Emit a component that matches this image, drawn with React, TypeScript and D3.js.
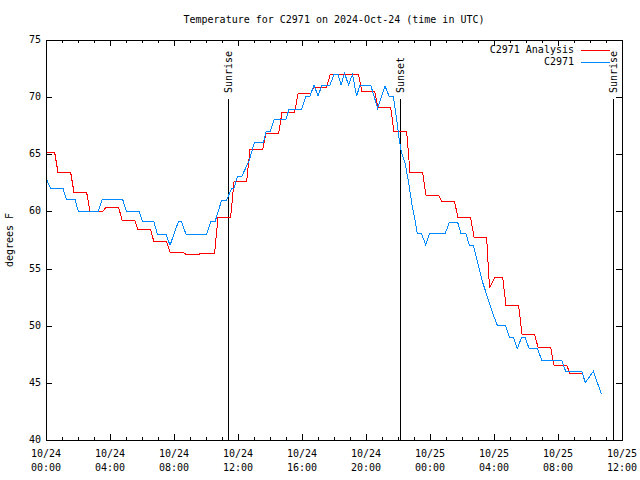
import React from "react";
import * as d3 from "d3";

const W = 640;
const H = 480;
const PLOT = { left: 46, right: 622, top: 40, bottom: 440 };
const START = Date.UTC(2024, 9, 24, 0, 0);
const END = Date.UTC(2024, 9, 25, 12, 0);
const hToDate = (h: number) => new Date(START + h * 3600e3);

const titleText = "Temperature for C2971 on 2024-Oct-24 (time in UTC)";
const yLabelText = "degrees F";
const seriesNames = ["C2971 Analysis", "C2971"];
const seriesColors = ["#ff0000", "#0088ff"];

// hourly analysis values (hour 0 .. 33)
const analysisHourly = [
  65.17, 63.42, 61.67, 59.98, 60.36, 59.25, 58.38, 57.33, 56.42, 56.25,
  56.35, 59.49, 62.6, 65.43, 66.83, 68.67, 70.28, 70.86, 71.94, 71.94,
  70.48, 69.08, 66.98, 63.42, 61.41, 60.83, 59.43, 57.76, 54.24, 51.75,
  49.25, 48.11, 46.54, 45.83,
];
const analysisDips = [{ hour: 28, value: 53.27 }];

// observations: hours since 10/24 00:00 UTC and values
const obsHours = [
  0, 0.29, 1.06, 1.27, 1.81, 2.02, 3.27, 3.52, 4.79, 5.02, 5.81, 6.04, 6.75,
  6.96, 7.5, 7.75, 8.27, 8.48, 8.75, 10.04, 10.29, 10.56, 10.98, 11.29, 11.61,
  11.75, 11.96, 12.23, 12.71, 13.02, 13.58, 13.75, 14.0, 14.27, 15.0, 15.19,
  15.98, 16.25, 16.5, 16.75, 17.0, 17.25, 17.75, 18.0, 18.25, 18.44, 18.66,
  18.91, 19.16, 19.41, 19.63, 20.29, 20.73, 21.19, 21.44, 21.71, 21.92, 22.08,
  22.23, 22.44, 22.64, 22.86, 23.06, 23.21, 23.48, 23.73, 23.96, 24.94, 25.21,
  25.73, 25.94, 26.25, 26.46, 26.71, 27.02, 27.29, 27.64, 27.96, 28.21, 28.71,
  28.96, 29.21, 29.46, 29.73, 29.94, 30.19, 30.71, 30.98, 32.23, 32.48, 33.48,
  33.71, 34.21, 34.71,
];
const obsValues = [
  62.9, 62.02, 62.02, 61.06, 61.06, 60.01, 60.01, 61.06, 61.06, 60.01, 60.01,
  59.08, 59.08, 58.0, 58.0, 57.04, 59.08, 59.08, 58.0, 58.0, 59.08, 59.08, 61.0,
  61.0, 62.02, 62.02, 63.04, 63.04, 64.5, 66.02, 66.02, 66.98, 66.98, 68.06,
  68.06, 68.96, 68.96, 70.1, 70.1, 71.06, 70.1, 71.06, 71.06, 72.0, 72.0, 71.06,
  72.09, 71.06, 72.0, 70.1, 71.06, 71.06, 69.02, 70.97, 70.1, 70.1, 68.0, 66.25,
  65.08, 64.2, 62.75, 60.71, 59.25, 58.03, 58.03, 57.06, 58.03, 58.03, 59.04,
  59.04, 58.03, 58.03, 57.06, 57.06, 55.3, 53.8, 52.3, 50.94, 50.03, 50.03,
  48.98, 48.98, 48.02, 48.98, 48.98, 48.02, 48.02, 47.0, 47.0, 46.01, 46.01,
  45.02, 46.01, 44.03,
];

const sunEvents = [
  { hour: 11.375, label: "Sunrise" },
  { hour: 22.125, label: "Sunset" },
  { hour: 35.44, label: "Sunrise" },
];
const yTicks = [40, 45, 50, 55, 60, 65, 70, 75];

type Pt = { t: Date; v: number };

function buildAnalysis(): Pt[] {
  const pts: Pt[] = [];
  analysisHourly.forEach((v, k) => {
    const dip = analysisDips.find((d) => d.hour === k);
    if (k === 0) {
      pts.push({ t: hToDate(0), v });
    } else if (dip) {
      pts.push({ t: hToDate(k - 0.28), v: dip.value });
      pts.push({ t: hToDate(k + 0.05), v });
    } else {
      pts.push({ t: hToDate(k - 0.25), v });
    }
    pts.push({ t: hToDate(k + 0.54), v });
  });
  return pts;
}

const FONT = "'DejaVu Sans Mono', 'Liberation Mono', monospace";

export default function App() {
  const x = d3
    .scaleUtc()
    .domain([new Date(START), new Date(END)])
    .range([PLOT.left, PLOT.right]);
  const y = d3.scaleLinear().domain([40, 75]).range([PLOT.bottom, PLOT.top]);

  const analysis = buildAnalysis();
  const obs: Pt[] = obsHours.map((h, i) => ({ t: hToDate(h), v: obsValues[i] }));
  const line = d3
    .line<Pt>()
    .x((d) => x(d.t))
    .y((d) => y(d.v));

  const hourTicks = x.ticks(d3.utcHour.every(1)!);
  const majorTicks = x.ticks(d3.utcHour.every(4)!);
  const fmtDate = d3.utcFormat("%m/%d");
  const fmtTime = d3.utcFormat("%H:%M");

  const legendY = [50, 62];

  return (
    <svg
      width={W}
      height={H}
      style={{ position: "absolute", left: 0, top: 0, background: "#fff" }}
      fontFamily={FONT}
      fontSize={10}
    >
      <rect width={W} height={H} fill="#fff" />
      <text x={334} y={20} textAnchor="middle" dominantBaseline="middle">
        {titleText}
      </text>
      <text
        transform={`translate(10,${(PLOT.top + PLOT.bottom) / 2}) rotate(-90)`}
        textAnchor="middle"
        dominantBaseline="middle"
      >
        {yLabelText}
      </text>

      {/* x ticks */}
      <g stroke="#000" shapeRendering="crispEdges">
        {hourTicks.map((t, i) => {
          const major = majorTicks.some((m) => +m === +t);
          const len = major ? 6 : 3;
          const xx = Math.round(x(t)) + 0.5;
          return (
            <g key={i}>
              <line x1={xx} x2={xx} y1={PLOT.bottom} y2={PLOT.bottom - len} />
              <line x1={xx} x2={xx} y1={PLOT.top} y2={PLOT.top + len} />
            </g>
          );
        })}
        {yTicks.map((v, i) => {
          const yy = Math.round(y(v)) + 0.5;
          return (
            <g key={i}>
              <line x1={PLOT.left} x2={PLOT.left + 6} y1={yy} y2={yy} />
              <line x1={PLOT.right} x2={PLOT.right - 6} y1={yy} y2={yy} />
            </g>
          );
        })}
      </g>
      {majorTicks.map((t, i) => (
        <g key={i}>
          <text x={x(t)} y={454} textAnchor="middle" dominantBaseline="middle">
            {fmtDate(t)}
          </text>
          <text x={x(t)} y={468} textAnchor="middle" dominantBaseline="middle">
            {fmtTime(t)}
          </text>
        </g>
      ))}
      {yTicks.map((v, i) => (
        <text key={i} x={41} y={y(v)} textAnchor="end" dominantBaseline="middle">
          {v}
        </text>
      ))}

      {/* sun events */}
      {sunEvents.map((s, i) => {
        const xx = Math.round(x(hToDate(s.hour))) + 0.5;
        return (
          <g key={i}>
            <line
              x1={xx}
              x2={xx}
              y1={99}
              y2={PLOT.bottom}
              stroke="#000"
              shapeRendering="crispEdges"
            />
            <text
              transform={`translate(${xx},93) rotate(-90)`}
              textAnchor="start"
              dominantBaseline="middle"
            >
              {s.label}
            </text>
          </g>
        );
      })}

      {/* series */}
      <path
        d={line(analysis) || ""}
        fill="none"
        stroke={seriesColors[0]}
        strokeWidth={1}
        shapeRendering="crispEdges"
      />
      <path
        d={line(obs) || ""}
        fill="none"
        stroke={seriesColors[1]}
        strokeWidth={1}
        shapeRendering="crispEdges"
      />

      {/* legend */}
      {seriesNames.map((n, i) => (
        <g key={i}>
          <text x={574} y={legendY[i]} textAnchor="end" dominantBaseline="middle">
            {n}
          </text>
          <line
            x1={581}
            x2={610}
            y1={legendY[i] + 0.5}
            y2={legendY[i] + 0.5}
            stroke={seriesColors[i]}
            shapeRendering="crispEdges"
          />
        </g>
      ))}

      <rect
        x={PLOT.left + 0.5}
        y={PLOT.top + 0.5}
        width={PLOT.right - PLOT.left}
        height={PLOT.bottom - PLOT.top}
        fill="none"
        stroke="#000"
        shapeRendering="crispEdges"
      />
    </svg>
  );
}
